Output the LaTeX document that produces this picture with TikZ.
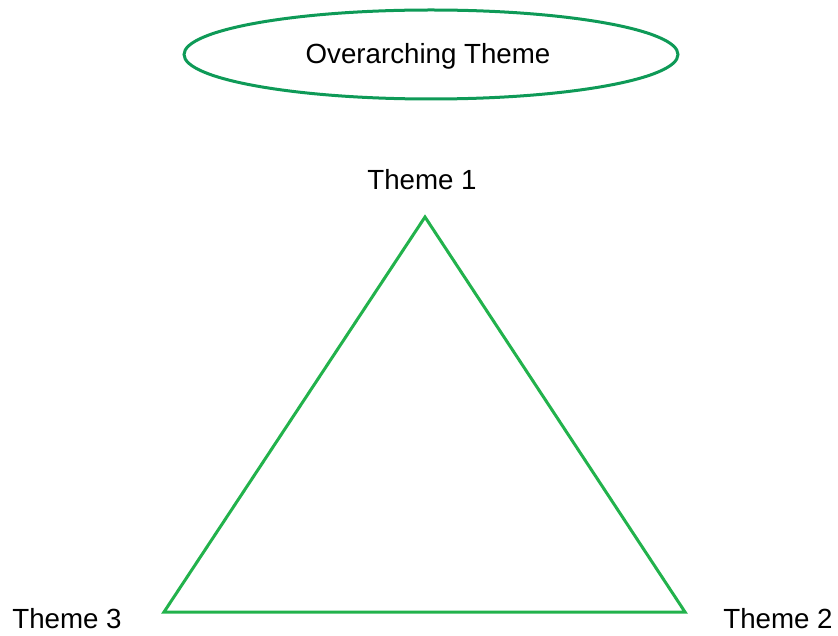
\documentclass[tikz,border=0pt]{standalone}
\usepackage{fontspec}
\setmainfont{Liberation Sans}
\usetikzlibrary{shapes.geometric}
\definecolor{ovalgreen}{HTML}{0E9A57}
\definecolor{trigreen}{HTML}{22B24C}
\begin{document}
\begin{tikzpicture}[x=1pt,y=-1pt,
  label/.style={font=\fontsize{27.7}{32}\selectfont, text=black, inner sep=0pt, anchor=base},
  oval/.style={draw=ovalgreen, line width=3pt, ellipse, minimum width=494pt, minimum height=89pt, inner sep=0pt},
  tri/.style={draw=trigreen, line width=3pt, line join=miter}]
  \useasboundingbox (0,0) rectangle (838,636);
  % overarching theme oval
  \node[oval] (over) at (431,54.5) {};
  \node[label] (overtext) at (428,64) {Overarching Theme};
  % triangle corners
  \coordinate (t1) at (425,217);
  \coordinate (t2) at (685,612);
  \coordinate (t3) at (164,612);
  \draw[tri] (t1) -- (t2) -- (t3) -- cycle;
  % corner labels
  \node[label] (l1) at (422,190) {Theme 1};
  \node[label] (l2) at (778,628) {Theme 2};
  \node[label] (l3) at (67,628) {Theme 3};
\end{tikzpicture}
\end{document}
